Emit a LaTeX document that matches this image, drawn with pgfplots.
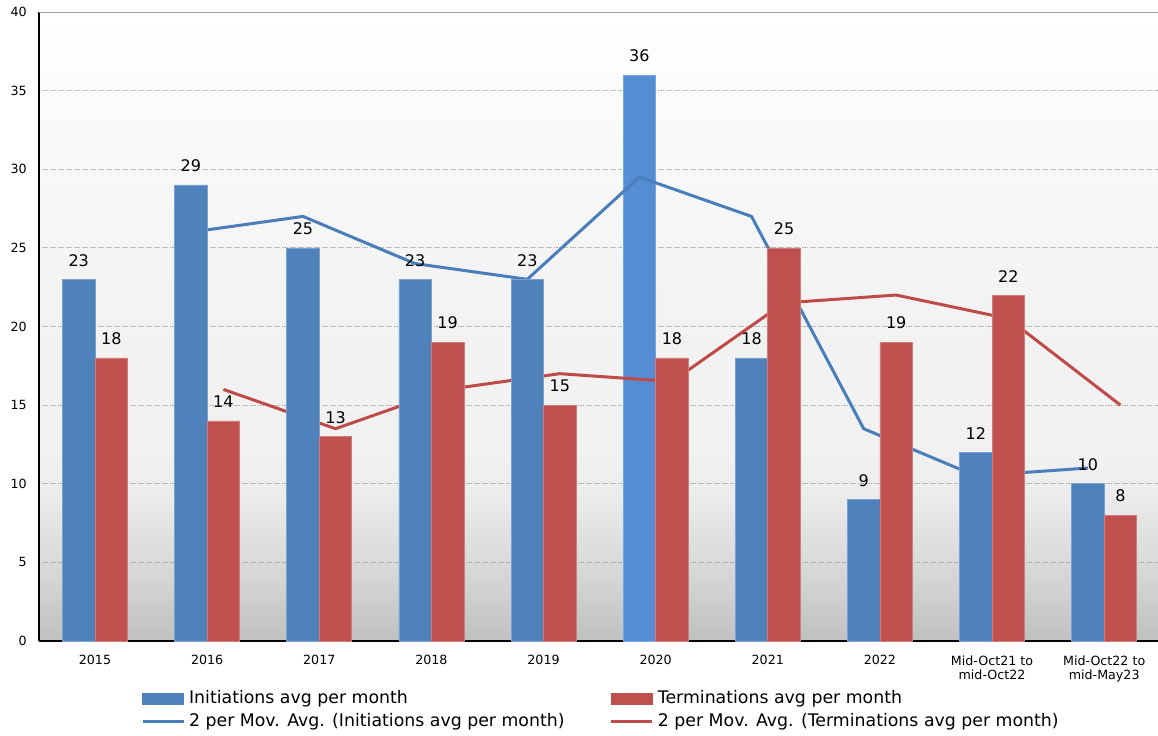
\documentclass[border=0pt]{standalone}
\usepackage{fontspec}
\setmainfont{DejaVu Sans}
\usepackage{pgfplots}
\pgfplotsset{compat=1.18}

\definecolor{initc}{HTML}{4F81BD}
\definecolor{inithi}{HTML}{558ED5}
\definecolor{termc}{HTML}{C0504D}
\definecolor{initline}{HTML}{4A7EBB}
\definecolor{termline}{HTML}{BE4B48}
\definecolor{bg0}{HTML}{C0C0C0}
\definecolor{bg5}{HTML}{DADADA}
\definecolor{bg10}{HTML}{EEEEEE}
\definecolor{bg12}{HTML}{F1F1F1}
\definecolor{bg22}{HTML}{F3F3F3}

% path is mapped onto 25bp..75bp
\pgfdeclareverticalshading{plotbg}{100bp}{color(0bp)=(bg0); color(25bp)=(bg0);
  color(31.25bp)=(bg5); color(37.5bp)=(bg10); color(40bp)=(bg12);
  color(52.5bp)=(bg22); color(75bp)=(white); color(100bp)=(white)}

\begin{document}
\begin{tikzpicture}
\useasboundingbox (-29.2pt,-71.25pt) rectangle (839.3pt,480.75pt);
\begin{axis}[
    at={(0pt,0pt)}, anchor=south west,
    scale only axis,
    width=839.3pt, height=471.75pt,
    xmin=-0.5, xmax=9.48,
    ymin=0, ymax=40,
    ytick={0,5,...,40},
    xtick={0,...,9},
    xticklabels={2015,2016,2017,2018,2019,2020,2021,2022,{Mid-Oct21 to\\mid-Oct22},{Mid-Oct22 to\\mid-May23}},
    axis x line*=bottom, axis y line*=left,
    axis line style={black, line width=1.5pt},
    major tick length=0pt,
    ymajorgrids,
    major grid style={gray!70, dash pattern=on 1pt off 1pt, line width=0.75pt},
    axis background/.style={shade, shading=plotbg},
    /pgf/number format/assume math mode=true,
    yticklabel style={font=\fontsize{9.5}{11}\selectfont, inner sep=0pt, xshift=-8.9pt},
    xticklabel style={font=\fontsize{9.5}{10.5}\selectfont, align=center, inner sep=0pt, yshift=-10.6pt},
    every node near coord/.append style={font=\fontsize{12}{14}\selectfont, inner sep=0pt, yshift=9.5pt, text=black},
    legend columns=2,
    legend cell align=left,
    legend style={at={(axis description cs:0.0913,-0.0768)}, anchor=north west,
        draw=none, fill=none, inner sep=0pt, outer sep=0pt,
        font=\fontsize{13}{15}\selectfont, row sep=3.25pt,
        nodes={inner sep=0pt, text height=11pt, text depth=3pt},
        /tikz/every odd column/.append style={column sep=3pt},
        /tikz/every even column/.append style={column sep=34pt}},
]

% 2020 bar (lighter, sits under the trend line)
\addplot[ybar, bar width=0.29, bar shift=-0.145, fill=inithi, draw=inithi!80!white, line width=0.5pt,
    nodes near coords, every node near coord/.append style={xshift=-12.2pt}, forget plot]
    coordinates {(5,36)};

% 2 per moving averages
\addplot[initline, line width=2.25pt, line join=round, forget plot] coordinates {
    (0.855,26) (1.855,27) (2.855,24) (3.855,23) (4.855,29.5)
    (5.855,27) (6.855,13.5) (7.855,10.5) (8.855,11)
};
\addplot[termline, line width=2.25pt, line join=round, forget plot] coordinates {
    (1.145,16) (2.145,13.5) (3.145,16) (4.145,17) (5.145,16.5)
    (6.145,21.5) (7.145,22) (8.145,20.5) (9.145,15)
};

% initiations
\addplot[ybar, bar width=0.29, bar shift=-0.145, fill=initc, draw=initc!75!white, line width=0.5pt,
    nodes near coords, every node near coord/.append style={xshift=-12.2pt}, forget plot]
    coordinates {
    (0,23) (1,29) (2,25) (3,23) (4,23) (6,18) (7,9) (8,12) (9,10)
};
% terminations
\addplot[ybar, bar width=0.29, bar shift=0.145, fill=termc, draw=termc!75!white, line width=0.5pt,
    nodes near coords, every node near coord/.append style={xshift=12.2pt}, forget plot]
    coordinates {
    (0,18) (1,14) (2,13) (3,19) (4,15) (5,18) (6,25) (7,19) (8,22) (9,8)
};

\draw[gray!75, line width=1.2pt] (rel axis cs:0,1) -- (rel axis cs:1,1);

\addlegendimage{legend image code/.code={\fill[initc] (0pt,-4pt) rectangle (30.75pt,4pt);}}
\addlegendentry{Initiations avg per month}
\addlegendimage{legend image code/.code={\fill[termc] (0pt,-4pt) rectangle (30.75pt,4pt);}}
\addlegendentry{Terminations avg per month}
\addlegendimage{legend image code/.code={\draw[initline, line width=2.25pt] (0pt,0pt) -- (30.75pt,0pt);}}
\addlegendentry{2 per Mov. Avg. (Initiations avg per month)}
\addlegendimage{legend image code/.code={\draw[termline, line width=2.25pt] (0pt,0pt) -- (30.75pt,0pt);}}
\addlegendentry{2 per Mov. Avg. (Terminations avg per month)}
\end{axis}
\end{tikzpicture}
\end{document}
